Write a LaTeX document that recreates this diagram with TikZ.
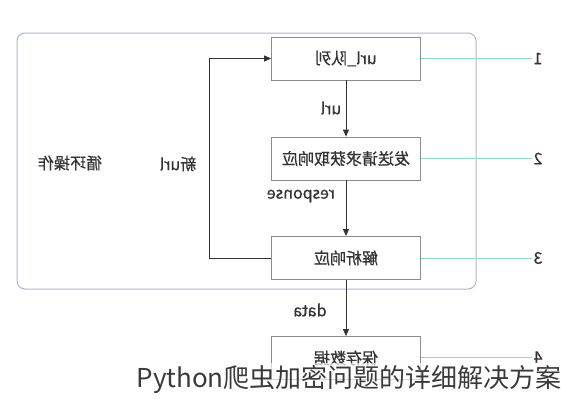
\documentclass[tikz,border=0pt]{standalone}
\usepackage{fontspec}
\usepackage{graphicx}
\setmainfont{Noto Sans CJK SC}
\newfontfamily\dfont{Noto Sans CJK SC}[FakeBold=0.6]
\usetikzlibrary{arrows.meta}
\definecolor{boxgray}{HTML}{8C8C8C}
\definecolor{linegray}{HTML}{333333}
\definecolor{mint}{HTML}{8FDDBB}
\definecolor{outerc}{HTML}{AEB6C8}
\definecolor{wmark}{HTML}{3A3A3A}
\begin{document}
\begin{tikzpicture}[x=1pt,y=-1pt,
  stepbox/.style={draw=boxgray, line width=0.8pt, fill=white, minimum width=149pt, minimum height=43pt, inner sep=0pt, font=\dfont\fontsize{16}{18}\selectfont, text=linegray},
  lbl/.style={font=\dfont\fontsize{16}{18}\selectfont, text=linegray, inner sep=1pt},
  arr/.style={draw=linegray, line width=0.8pt, -{Triangle[length=7pt,width=6pt]}},
  mintline/.style={draw=mint, line width=1pt},
  outerbox/.style={draw=outerc, line width=1pt, rounded corners=8pt}]
\useasboundingbox (0,0) rectangle (561,400);
\fill[white] (0,0) rectangle (561,400);
% outer loop region
\draw[outerbox] (17,33) rectangle (476,289);
% boxes
\node[stepbox] (b1) at (346,58.5) {\reflectbox{url\_队列}};
\node[stepbox] (b2) at (346,158.5) {\reflectbox{发送请求获取响应}};
\node[stepbox] (b3) at (346,258) {\reflectbox{解析响应}};
\node[stepbox] (b4) at (346,358) {\reflectbox{保存数据}};
% numbers
\node[lbl] (n1) at (538,58.5) {\reflectbox{1}};
\node[lbl] (n2) at (538,158.5) {\reflectbox{2}};
\node[lbl] (n3) at (538,258) {\reflectbox{3}};
\node[lbl] (n4) at (538,357) {\reflectbox{4}};
\draw[mintline] (b1.east) -- (n1.west);
\draw[mintline] (b2.east) -- (n2.west);
\draw[mintline] (b3.east) -- (n3.west);
\draw[mintline] (b4.east |- n4) -- (n4.west);
% vertical arrows
\draw[arr] (b1) -- (b2);
\draw[arr] (b2) -- (b3);
\draw[arr] (b3) -- (b4);
\node[lbl] (lurl) at (331,108) {\reflectbox{url}};
\node[lbl] (lresp) at (301,196) {\reflectbox{response}};
\node[lbl] (ldata) at (310,310) {\reflectbox{data}};
% loop back
\coordinate (lp) at (209.5,0);
\draw[arr] (b3.west) -- (b3.west -| lp) |- (b1.west);
\node[lbl] (lnew) at (178,164) {\reflectbox{新url}};
\node[lbl] (lloop) at (70,163) {\reflectbox{循环操作}};
% watermark
\fill[white, opacity=0.65] (128,363) rectangle (561,400);
\node[anchor=east, inner sep=0pt, text=wmark, font=\fontsize{26}{28}\selectfont] (wm) at (562,379) {Python爬虫加密问题的详细解决方案};
\end{tikzpicture}
\end{document}
